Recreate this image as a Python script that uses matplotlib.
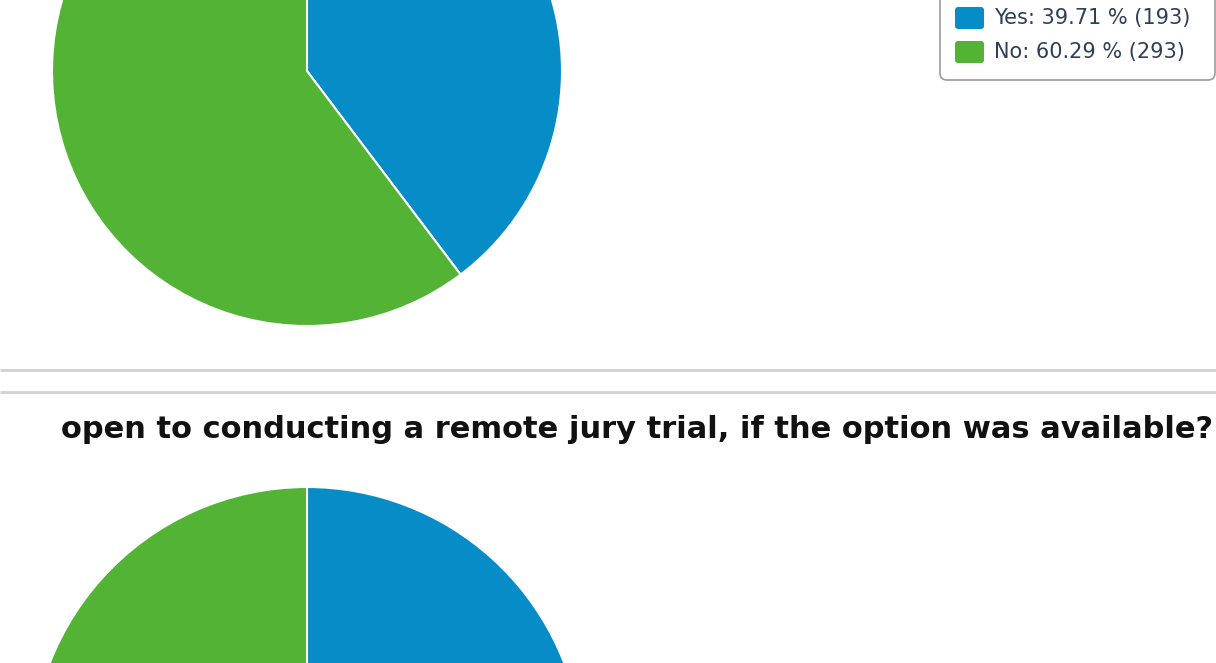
import matplotlib.pyplot as plt
from matplotlib.patches import FancyBboxPatch

# Survey answers (top question fully shown, bottom one only partly)
labels = ['Yes', 'No']
counts_top = [193, 293]
counts_bottom = [227, 259]
colors = ['#068dc7', '#52b335']
title_bottom = 'open to conducting a remote jury trial, if the option was available?'

W, H = 1216, 663

fig = plt.figure(figsize=(W / 100, H / 100), dpi=100)
ax = fig.add_axes([0, 0, 1, 1])


def py(y):
    # pixel row (from top) -> data y
    return H - y


wedge_style = dict(edgecolor='white', linewidth=1.5)

ax.pie(counts_top, colors=colors, startangle=90, counterclock=False,
       center=(307, py(71)), radius=255, wedgeprops=wedge_style, frame=True)
ax.pie(counts_bottom, colors=colors, startangle=90, counterclock=False,
       center=(307, py(763)), radius=276, wedgeprops=wedge_style, frame=True)

# separators between the two questions
for y in (370, 392):
    ax.plot([0, W], [py(y), py(y)], color='#d2d2d2', linewidth=2, solid_capstyle='butt')

ax.text(1213, py(429), title_bottom, ha='right', va='center',
        fontsize=22, fontweight='bold', color='#111111')

# legend of the top chart
ax.add_patch(FancyBboxPatch((940, py(80)), 275, 110,
                            boxstyle='round,pad=0,rounding_size=7',
                            facecolor='white', edgecolor='#9a9a9a', linewidth=1.2))
total = sum(counts_top)
rows = [18, 52]
for lab, n, c, y in zip(labels, counts_top, colors, rows):
    ax.add_patch(FancyBboxPatch((955, py(y) - 11), 29, 22,
                                boxstyle='round,pad=0,rounding_size=3',
                                facecolor=c, edgecolor='none'))
    ax.text(994, py(y), f'{lab}: {n / total * 100:.2f} % ({n})', ha='left', va='center',
            fontsize=15, color='#2e3f5a')

ax.set_xlim(0, W)
ax.set_ylim(0, H)
ax.set_aspect('auto')
ax.axis('off')

fig.savefig('out.png', dpi=100)
